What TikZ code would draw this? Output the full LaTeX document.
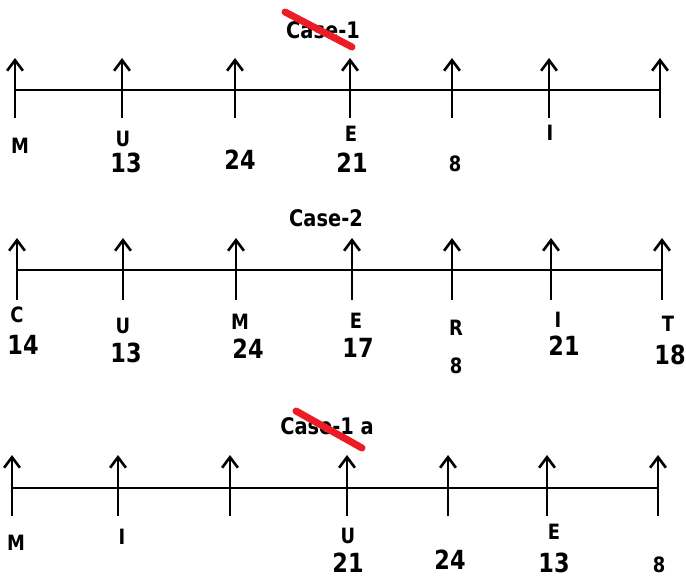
\documentclass[tikz,border=0pt]{standalone}
\usepackage{fontspec}
\setmainfont{DejaVu Sans}[FakeStretch=0.85]
\usetikzlibrary{arrows.meta}
\definecolor{strikered}{RGB}{237,28,36}

\begin{document}
\begin{tikzpicture}[x=0.02cm,y=-0.02cm,line width=1.5pt,
  up/.style={-{Straight Barb[length=6pt,width=9pt]}},
  lab/.style={font=\bfseries\fontsize{12}{14}\selectfont},
  num/.style={font=\bfseries\fontsize{15}{17}\selectfont},
  ttl/.style={font=\bfseries\fontsize{13}{15}\selectfont},
  cross/.style={strikered,line width=4pt,line cap=round}]
  \useasboundingbox (0,0) rectangle (686,578);
  % Case-1 (struck out)
  \node[ttl] (ttlA) at (323,30) {Case-1};
  \coordinate (xA1) at (285,12); \coordinate (xA2) at (352,47);
  \draw[cross] (xA1) -- (xA2);
  \foreach \i/\x in {1/15,2/122,3/235,4/350,5/452,6/549,7/660}{
    \coordinate (a\i) at (\x,118);
    \coordinate (am\i) at (\x,90);
    \coordinate (at\i) at (\x,58);
    \draw[up] (a\i) -- (at\i);
  }
  \draw (am1) -- (am7);
  \node[lab] (aM) at (20,146) {M};
  \node[lab] (aU) at (123,139) {U};
  \node[num] (a13) at (126,163) {13};
  \node[num] (a24) at (240,160) {24};
  \node[lab] (aE) at (351,134) {E};
  \node[num] (a21) at (352,163) {21};
  \node[lab] (a8) at (455,164) {8};
  \node[lab] (aI) at (550,133) {I};
  % Case-2
  \node[ttl] (ttlB) at (326,218) {Case-2};
  \foreach \i/\x in {1/17,2/123,3/236,4/352,5/452,6/551,7/662}{
    \coordinate (b\i) at (\x,300);
    \coordinate (bm\i) at (\x,270);
    \coordinate (bt\i) at (\x,238);
    \draw[up] (b\i) -- (bt\i);
  }
  \draw (bm1) -- (bm7);
  \node[lab] (bC) at (17,315) {C};
  \node[num] (b14) at (23,345) {14};
  \node[lab] (bU) at (123,326) {U};
  \node[num] (b13) at (126,353) {13};
  \node[lab] (bM) at (240,322) {M};
  \node[num] (b24) at (248,349) {24};
  \node[lab] (bE) at (356,321) {E};
  \node[num] (b17) at (358,348) {17};
  \node[lab] (bR) at (456,328) {R};
  \node[lab] (b8) at (456,366) {8};
  \node[lab] (bI) at (558,320) {I};
  \node[num] (b21) at (564,346) {21};
  \node[lab] (bT) at (668,324) {T};
  \node[num] (b18) at (670,355) {18};
  % Case-1 a (struck out)
  \node[ttl] (ttlC) at (327,426) {Case-1 a};
  \coordinate (xC1) at (296,411); \coordinate (xC2) at (362,448);
  \draw[cross] (xC1) -- (xC2);
  \foreach \i/\x in {1/12,2/118,3/230,4/347,5/448,6/547,7/658}{
    \coordinate (c\i) at (\x,516);
    \coordinate (cm\i) at (\x,488);
    \coordinate (ct\i) at (\x,455);
    \draw[up] (c\i) -- (ct\i);
  }
  \draw (cm1) -- (cm7);
  \node[lab] (cM) at (16,543) {M};
  \node[lab] (cI) at (122,537) {I};
  \node[lab] (cU) at (348,536) {U};
  \node[num] (c21) at (348,563) {21};
  \node[num] (c24) at (450,560) {24};
  \node[lab] (cE) at (554,532) {E};
  \node[num] (c13) at (554,563) {13};
  \node[lab] (c8) at (659,565) {8};
\end{tikzpicture}
\end{document}
